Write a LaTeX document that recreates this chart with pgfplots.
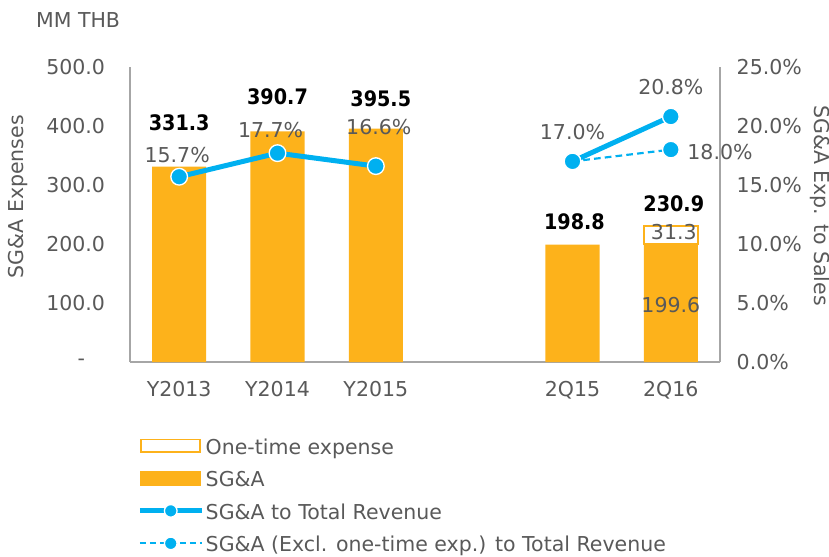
\documentclass[border=0pt]{standalone}
\usepackage{pgfplots}
\pgfplotsset{compat=1.18}
\usepackage{fontspec}
\setmainfont{DejaVu Sans}
\newfontfamily\condbold{DejaVu Sans Condensed Bold}

\definecolor{sgaOrange}{RGB}{253,178,27}
\definecolor{sgaBlue}{RGB}{0,176,240}
\definecolor{txtGrey}{RGB}{89,89,89}
\definecolor{axGrey}{RGB}{166,166,166}

\tikzset{bold label/.style={font=\fontsize{12.8}{15}\selectfont\condbold, black}}

\begin{document}
\begin{tikzpicture}[font=\fontsize{12.3}{15}\selectfont]
% page box: 829x557 px at 0.6pt per px, axis box at (0,0)
\path[use as bounding box] (-78pt,-117pt) rectangle (419.4pt,217.2pt);

\pgfplotsset{
  common/.style={
    width=354pt, height=177pt, scale only axis,
    xmin=-0.5, xmax=5.5,
    major tick length=0pt,
    axis line style={axGrey, line width=0.8pt},
    tick label style={txtGrey},
    label style={txtGrey},
    clip=false,
  },
}

% bars, left axis
\begin{axis}[common,
    ymin=0, ymax=500,
    axis x line*=bottom, axis y line*=left,
    xtick={0,1,2,4,5},
    xticklabels={Y2013,Y2014,Y2015,2Q15,2Q16},
    xticklabel style={yshift=-8pt},
    ytick={0,100,200,300,400,500},
    yticklabels={-\kern12pt,100.0,200.0,300.0,400.0,500.0},
    yticklabel style={anchor=east, xshift=-11.5pt},
    ylabel={SG\&A Expenses},
    ylabel style={at={(axis description cs:-0.19,0.56)}, anchor=center, rotate=0},
    ybar stacked, bar width=0.55,
]
\addplot[fill=sgaOrange, draw=none] coordinates {(0,331.3) (1,390.7) (2,395.5) (4,198.8) (5,199.6)};
\addplot[fill=white, draw=sgaOrange, line width=0.9pt] coordinates {(0,0) (1,0) (2,0) (4,0) (5,31.3)};

\node[bold label] at (axis cs:0,405) {331.3};
\node[bold label] at (axis cs:1,449) {390.7};
\node[bold label] at (axis cs:2.05,447) {395.5};
\node[bold label] at (axis cs:4.02,237) {198.8};
\node[bold label] at (axis cs:5.03,269) {230.9};
\node[txtGrey] at (axis description cs:-0.088,1.159) {MM THB};
\end{axis}

% ratios, right axis
\begin{axis}[common,
    ymin=0, ymax=25,
    axis x line=none, axis y line*=right,
    ytick={0,5,10,15,20,25},
    yticklabels={0.0\%,5.0\%,10.0\%,15.0\%,20.0\%,25.0\%},
    yticklabel style={anchor=west, xshift=6.5pt},
    ylabel={SG\&A Exp. to Sales},
    ylabel style={at={(axis description cs:1.169,0.53)}, anchor=center, rotate=180},
    legend style={at={(axis description cs:0.012,-0.255)}, anchor=north west,
      draw=none, fill=none, inner sep=0pt, row sep=6.5pt,
      nodes={txtGrey, inner sep=0pt, text height=10pt, text depth=3pt},
      /tikz/every odd column/.style={column sep=1pt}},
    legend cell align=left,
]
\addlegendimage{legend image code/.code={
  \draw[sgaOrange, fill=white, line width=1.1pt] (0.5pt,-2.3pt) rectangle (36pt,5.3pt);}}
\addlegendentry{One-time expense}
\addlegendimage{legend image code/.code={
  \fill[sgaOrange] (0pt,-2.8pt) rectangle (36.5pt,5.8pt);}}
\addlegendentry{SG\&A}
\addlegendimage{legend image code/.code={
  \draw[sgaBlue, line width=3pt] (0pt,1.5pt) -- (37pt,1.5pt);
  \draw[fill=sgaBlue, draw=white, line width=0.8pt] (18.5pt,1.5pt) circle (3.8pt);}}
\addlegendentry{SG\&A to Total Revenue}
\addlegendimage{legend image code/.code={
  \draw[sgaBlue, line width=1.3pt, dash pattern=on 3.5pt off 2.5pt] (0pt,1.5pt) -- (37pt,1.5pt);
  \draw[fill=sgaBlue, draw=white, line width=0.8pt] (18.5pt,1.5pt) circle (3.8pt);}}
\addlegendentry{SG\&A (Excl. one-time exp.) to Total Revenue}

\addplot[forget plot, sgaBlue, line width=1.3pt, dash pattern=on 4pt off 2.5pt,
  mark=*, mark size=5pt, mark options={solid, fill=sgaBlue, draw=white, line width=0.8pt}]
  coordinates {(4,17.0) (5,18.0)};
\addplot[forget plot, sgaBlue, line width=3pt, unbounded coords=jump,
  mark=*, mark size=5pt, mark options={fill=sgaBlue, draw=white, line width=0.8pt}]
  coordinates {(0,15.7) (1,17.7) (2,16.6) (3,nan) (4,17.0) (5,20.8)};

\node[txtGrey] at (axis cs:-0.02,17.5) {15.7\%};
\node[txtGrey] at (axis cs:0.93,19.7) {17.7\%};
\node[txtGrey] at (axis cs:2.03,19.9) {16.6\%};
\node[txtGrey] at (axis cs:4.0,19.5) {17.0\%};
\node[txtGrey] at (axis cs:5.0,23.3) {20.8\%};
\node[txtGrey] at (axis cs:5.5,17.8) {18.0\%};
\node[txtGrey] at (axis cs:5.03,11.0) {31.3};
\node[txtGrey] at (axis cs:5.0,4.85) {199.6};
\end{axis}
\end{tikzpicture}
\end{document}
